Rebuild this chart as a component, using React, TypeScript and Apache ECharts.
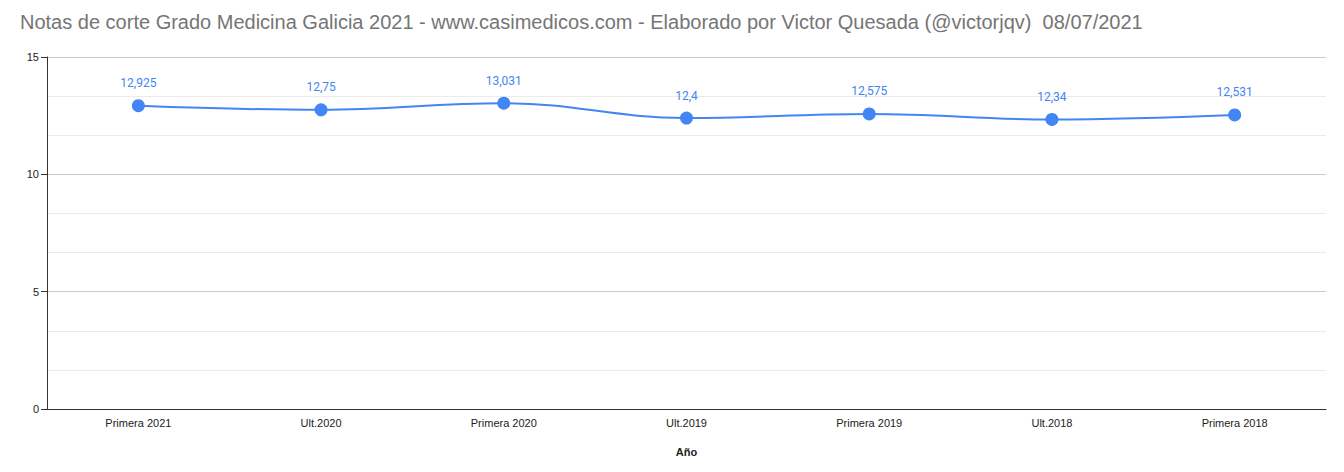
import React, { useEffect, useRef } from "react";
import * as echarts from "echarts";

const categories = ["Primera 2021", "Ult.2020", "Primera 2020", "Ult.2019", "Primera 2019", "Ult.2018", "Primera 2018"];
const values = [12.925, 12.75, 13.031, 12.4, 12.575, 12.34, 12.531];
const titleText = "Notas de corte Grado Medicina Galicia 2021 - www.casimedicos.com - Elaborado por Victor Quesada (@victorjqv)  08/07/2021";
const xAxisName = "Año";

export default function App() {
  const ref = useRef<HTMLDivElement>(null);
  useEffect(() => {
    if (!ref.current) return;
    const chart = echarts.init(ref.current, null, { renderer: "svg" });
    chart.setOption({
      animation: false,
      backgroundColor: "#ffffff",
      title: {
        text: titleText,
        left: 20,
        top: 12,
        padding: 0,
        textStyle: { fontFamily: "Arial, 'Liberation Sans'", fontSize: 20, fontWeight: "normal", color: "#757575" },
      },
      grid: { left: 47, right: 18, top: 57, bottom: 63 },
      xAxis: {
        type: "category",
        data: categories,
        name: xAxisName,
        nameLocation: "middle",
        nameGap: 37,
        nameTextStyle: { fontFamily: "Arial, 'Liberation Sans'", fontSize: 11, fontWeight: "bold", color: "#222" },
        axisLine: { lineStyle: { color: "#333", width: 1 } },
        axisTick: { show: false },
        axisLabel: { fontFamily: "Arial, 'Liberation Sans'", fontSize: 11, color: "#222", margin: 8 },
      },
      yAxis: {
        type: "value",
        min: 0,
        max: 15,
        interval: 5,
        axisLine: { show: true, lineStyle: { color: "#333", width: 1 } },
        axisTick: { show: true, length: 6, lineStyle: { color: "#333" } },
        axisLabel: { fontFamily: "Arial, 'Liberation Sans'", fontSize: 11, color: "#222", margin: 8 },
        splitLine: { lineStyle: { color: "#cccccc" } },
        minorTick: { show: false, splitNumber: 3 },
        minorSplitLine: { show: true, lineStyle: { color: "#ebebeb" } },
      },
      series: [
        {
          type: "line",
          data: values,
          smooth: 0.4,
          symbol: "circle",
          symbolSize: 13,
          lineStyle: { color: "#4285F4", width: 2 },
          itemStyle: { color: "#4285F4" },
          label: {
            show: true,
            position: "top",
            distance: 10,
            fontFamily: "Roboto, Arial",
            fontSize: 12,
            color: "#4285F4",
            formatter: (p: any) => String(p.value).replace(".", ","),
          },
        },
      ],
    });
    return () => chart.dispose();
  }, []);
  return <div ref={ref} style={{ position: "fixed", left: 0, top: 0, width: 1344, height: 472 }} />;
}
